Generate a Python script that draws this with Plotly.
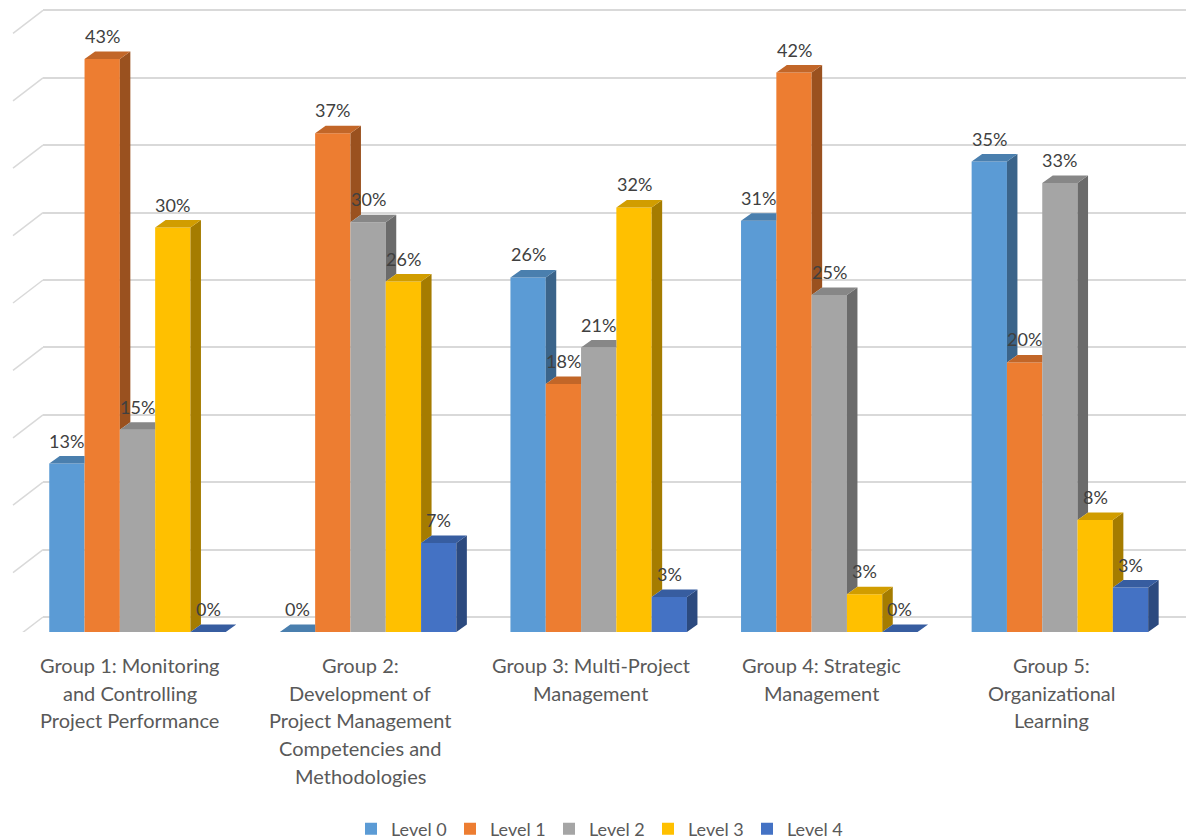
import math
import plotly.graph_objects as go

# ---------------- data ----------------
levels = ["Level 0", "Level 1", "Level 2", "Level 3", "Level 4"]
category_lines = [
    ["Group 1: Monitoring", "and Controlling", "Project Performance"],
    ["Group 2:", "Development of", "Project Management", "Competencies and", "Methodologies"],
    ["Group 3: Multi-Project", "Management"],
    ["Group 4: Strategic", "Management"],
    ["Group 5:", "Organizational", "Learning"],
]
level_0 = [12.5, 0.0, 26.3, 30.5, 34.9]
level_1 = [42.5, 37.0, 18.4, 41.5, 20.0]
level_2 = [15.0, 30.4, 21.1, 25.0, 33.3]
level_3 = [30.0, 26.0, 31.5, 2.8, 8.3]
level_4 = [0.0, 6.6, 2.6, 0.0, 3.3]
series = [level_0, level_1, level_2, level_3, level_4]

colors = ["#5B9BD5", "#ED7D31", "#A5A5A5", "#FFC000", "#4472C4"]

# ---------------- geometry ----------------
W, H = 1186, 840
ML, MB = 43, 208
PLOT_H = H - MB
PX_PER_CAT = 230.6
FIRST_CENTER_PX = 137.5
PX_PER_PCT = 13.48
BACK_SHIFT_PX = 15.0          # back wall floor above bar base
BAR_W = 0.1531
DEPTH_X = 10.5 / PX_PER_CAT
DEPTH_Y = 7.5 / PX_PER_PCT
WALL_DX_PX, WALL_DY_PX = 30.0, 23.0
FONT = "Lato"
TXT = "#595959"
LBL = "#404040"
GRID = "#D9D9D9"

x_lo = (ML - FIRST_CENTER_PX) / PX_PER_CAT
x_hi = (W - FIRST_CENTER_PX) / PX_PER_CAT
y2_top = PLOT_H / PX_PER_PCT
y_lo = -BACK_SHIFT_PX / PX_PER_PCT
y_hi = y_lo + y2_top


def shade(hexcol, f):
    r, g, b = (int(hexcol[i:i + 2], 16) for i in (1, 3, 5))
    return "rgb(%d,%d,%d)" % (r * f, g * f, b * f)


def label(v):
    return "%d%%" % math.floor(v + 0.5)


fig = go.Figure()
cats = list(range(len(category_lines)))
offsets = [-2.5 * BAR_W + i * BAR_W for i in range(len(levels))]

for i, (name, vals) in enumerate(zip(levels, series)):
    fig.add_trace(go.Bar(
        x=cats, y=vals, width=BAR_W, offset=offsets[i], name=name,
        marker=dict(color=colors[i], line=dict(width=0)),
        yaxis="y2", hoverinfo="skip",
    ))

# 3D faces (top and side), clipped by the neighbouring bar in front-right
for i, vals in enumerate(series):
    tx, ty, sx, sy = [], [], [], []
    for g in cats:
        v = vals[g]
        xl = g + offsets[i]
        xr = xl + BAR_W
        nv = series[i + 1][g] if i + 1 < len(series) else None
        if nv is not None and nv > v:
            px = [xl, xr, xr, xl + DEPTH_X]
        else:
            px = [xl, xr, xr + DEPTH_X, xl + DEPTH_X]
        py = [v, v, v + DEPTH_Y, v + DEPTH_Y]
        tx += px + [None]
        ty += py + [None]
        low = max(nv, 0) if nv is not None else 0
        if v > low:
            sx += [xr, xr + DEPTH_X, xr + DEPTH_X, xr, None]
            sy += [low, low + DEPTH_Y, v + DEPTH_Y, v, None]
    fig.add_trace(go.Scatter(x=sx, y=sy, mode="lines", fill="toself",
                             fillcolor=shade(colors[i], 0.65),
                             line=dict(width=0, color=shade(colors[i], 0.65)),
                             yaxis="y2", showlegend=False, hoverinfo="skip"))
    fig.add_trace(go.Scatter(x=tx, y=ty, mode="lines", fill="toself",
                             fillcolor=shade(colors[i], 0.82),
                             line=dict(width=0, color=shade(colors[i], 0.82)),
                             yaxis="y2", showlegend=False, hoverinfo="skip"))

annotations = []
# data labels
for i, vals in enumerate(series):
    for g in cats:
        annotations.append(dict(
            x=g + offsets[i] + BAR_W / 2, y=vals[g], xref="x", yref="y2",
            text=label(vals[g]), showarrow=False, yanchor="middle",
            yshift=23, font=dict(family=FONT, size=18, color=LBL)))
# category labels
for g, lines in enumerate(category_lines):
    for j, line in enumerate(lines):
        annotations.append(dict(
            x=g, y=0, xref="x", yref="y2", text=line, showarrow=False,
            yanchor="middle", xshift=-8, yshift=-(33 + j * 27.7),
            font=dict(family=FONT, size=20, color=TXT)))

# side wall diagonals
shapes = []
wall_dx = -WALL_DX_PX / (W - ML)
wall_dy = WALL_DY_PX / PX_PER_PCT
for k in range(0, 50, 5):
    shapes.append(dict(type="line", xref="paper", yref="y",
                       x0=wall_dx, y0=k - wall_dy, x1=0, y1=k,
                       line=dict(color=GRID, width=1.5), layer="below"))

fig.update_layout(
    width=W, height=H,
    margin=dict(l=ML, r=0, t=0, b=MB, autoexpand=False),
    paper_bgcolor="white", plot_bgcolor="white",
    barmode="overlay",
    xaxis=dict(range=[x_lo, x_hi], showgrid=False, zeroline=False,
               showticklabels=False, ticks="", showline=False),
    yaxis=dict(range=[y_lo, y_hi], tick0=0, dtick=5, showgrid=True,
               gridcolor=GRID, gridwidth=1.5, zeroline=True,
               zerolinecolor=GRID, zerolinewidth=1.5,
               showticklabels=False, ticks="", showline=False),
    yaxis2=dict(range=[0, y2_top], overlaying="y", showgrid=False,
                zeroline=False, showticklabels=False, ticks="",
                showline=False),
    legend=dict(orientation="h", x=0.5 - 16 / (W - ML), xanchor="center",
                y=-(829 - PLOT_H) / PLOT_H, yanchor="middle",
                font=dict(family=FONT, size=18, color=TXT),
                entrywidth=54, entrywidthmode="pixels", itemwidth=30),
    annotations=annotations,
    shapes=shapes,
    font=dict(family=FONT, color=TXT),
)

fig.write_html("out.html")
